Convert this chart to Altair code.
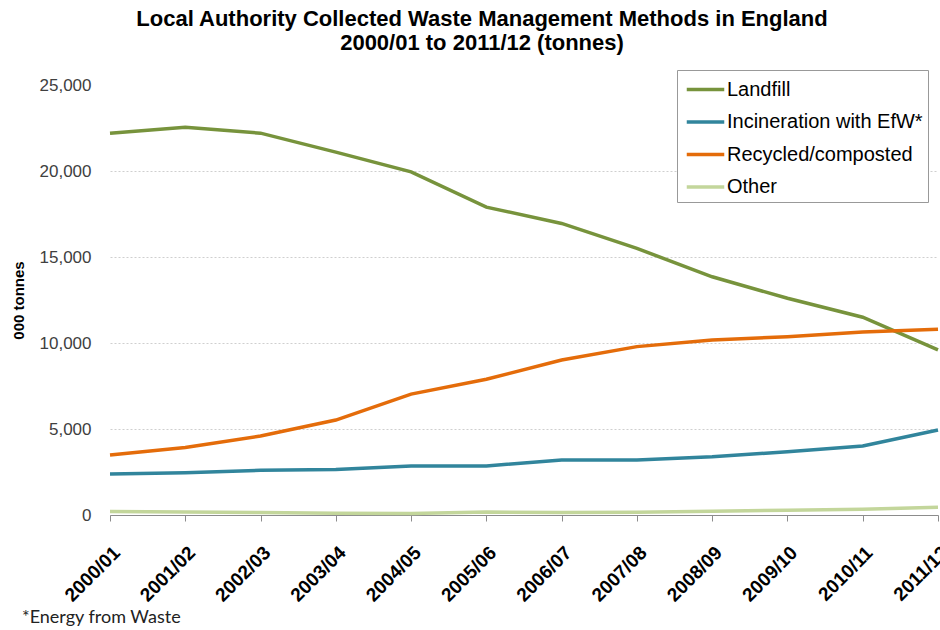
import altair as alt
import pandas as pd

years = ["2000/01", "2001/02", "2002/03", "2003/04", "2004/05", "2005/06",
         "2006/07", "2007/08", "2008/09", "2009/10", "2010/11", "2011/12"]
landfill = [22200, 22550, 22200, 21100, 19950, 17900, 16950, 15500, 13850, 12600, 11500, 9600]
incineration = [2380, 2460, 2600, 2650, 2850, 2850, 3200, 3200, 3390, 3680, 4010, 4940]
recycled = [3490, 3930, 4590, 5520, 7030, 7890, 9010, 9790, 10170, 10370, 10640, 10800]
other = [200, 170, 150, 100, 90, 170, 150, 160, 220, 280, 340, 450]

series_names = ["Landfill", "Incineration with EfW*", "Recycled/composted", "Other"]
series_colors = ["#77933C", "#31859C", "#E46C0A", "#C3D69B"]
y_ticks = [0, 5000, 10000, 15000, 20000, 25000]
title_lines = ["Local Authority Collected Waste Management Methods in England",
               "2000/01 to 2011/12 (tonnes)"]
footnote = ["*Energy from Waste"]

rows = []
for name, vals in zip(series_names, [landfill, incineration, recycled, other]):
    for yr, v in zip(years, vals):
        rows.append({"year": yr, "series": name, "value": v})
df = pd.DataFrame(rows)

lines = alt.Chart(df).mark_line(strokeWidth=3.5).encode(
    x=alt.X("year:O", sort=years, scale=alt.Scale(type="point", padding=0),
            axis=alt.Axis(title=None, labelAngle=-45, labelFont="Liberation Sans",
                          labelFontWeight="bold", labelFontSize=19, labelColor="#000000",
                          labelAlign="right", labelBaseline="top", labelPadding=22,
                          domainColor="#8c8c8c", tickColor="#8c8c8c", tickSize=6,
                          grid=False)),
    y=alt.Y("value:Q", scale=alt.Scale(domain=[0, 25000], nice=False),
            axis=alt.Axis(values=y_ticks, format=",d", domain=False, ticks=False,
                          labelPadding=19, labelFont="Liberation Sans", labelFontSize=17,
                          labelColor="#404040", grid=True, gridDash=[2, 2],
                          gridColor="#cfcfcf",
                          gridOpacity=alt.ExprRef(expr="datum.value >= 25000 ? 0 : 1"),
                          title="000 tonnes", titleFont="Liberation Sans",
                          titleFontSize=15, titleFontWeight="bold", titleColor="#000000",
                          titleAngle=270, titleX=-92, titleY=215, titleAlign="center",
                          titleBaseline="middle")),
    color=alt.Color("series:N", scale=alt.Scale(domain=series_names, range=series_colors),
                    legend=alt.Legend(title=None, orient="none", legendX=567, legendY=-15,
                                      symbolType="M-1.5,0H1.5", symbolSize=625,
                                      symbolStrokeWidth=3.5, symbolOffset=9,
                                      labelFont="Liberation Sans", labelLimit=400,
                                      labelFontSize=20, labelColor="#000000",
                                      strokeColor="#999999", fillColor="#ffffff",
                                      padding=5, rowPadding=7.5, labelOffset=7)),
)

note = alt.Chart(pd.DataFrame({"t": footnote})).mark_text(
    align="left", baseline="alphabetic", font="Lato", fontSize=18, color="#222222"
).encode(x=alt.value(-88), y=alt.value(538), text="t:N")

chart = alt.layer(lines, note).properties(
    width=828, height=430,
    title=alt.TitleParams(text=title_lines, font="Liberation Sans", fontSize=22,
                          fontWeight="bold", color="#000000", anchor="middle",
                          dx=-42, dy=-11, lineHeight=24),
    autosize=alt.AutoSizeParams(type="none"),
    padding={"left": 110, "top": 85, "right": 2, "bottom": 115},
).configure_view(stroke=None)

chart.save("out.html", embed_options={"renderer": "svg", "actions": False})
